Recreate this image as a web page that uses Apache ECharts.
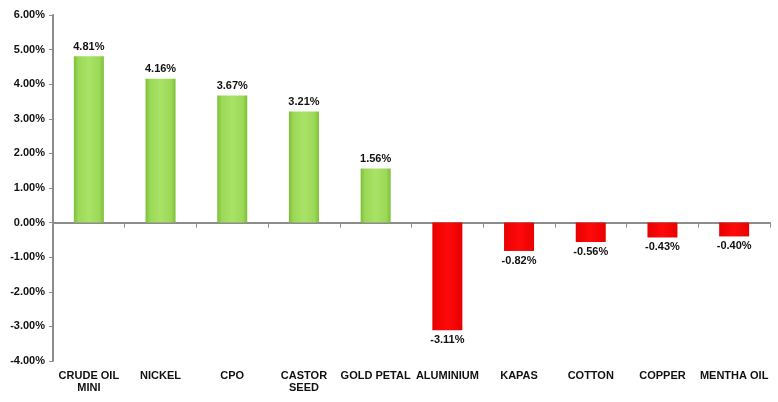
<!DOCTYPE html>
<html><head><meta charset="utf-8">
<script src="https://cdn.jsdelivr.net/npm/echarts@6/dist/echarts.min.js"></script>
<style>html,body{margin:0;padding:0;background:#fff}#c{width:778px;height:402px}</style>
</head><body><div id="c"></div>
<script>
const categories = ['CRUDE OIL\nMINI','NICKEL','CPO','CASTOR\nSEED','GOLD PETAL','ALUMINIUM','KAPAS','COTTON','COPPER','MENTHA OIL'];
const values = [4.81, 4.16, 3.67, 3.21, 1.56, -3.11, -0.82, -0.56, -0.43, -0.40];
const yMin = -4, yMax = 6, yStep = 1;

const green = {type:'linear',x:0,y:0,x2:1,y2:0,colorStops:[
  {offset:0,color:'#7cbf36'},{offset:0.15,color:'#9cd957'},{offset:0.5,color:'#a9e267'},{offset:0.85,color:'#9cd957'},{offset:1,color:'#7cbf36'}]};
const red = {type:'linear',x:0,y:0,x2:1,y2:0,colorStops:[
  {offset:0,color:'#e80000'},{offset:0.5,color:'#ff0a0a'},{offset:1,color:'#e80000'}]};

const font = {fontFamily:'Liberation Sans, Arial, sans-serif',fontWeight:'bold',fontSize:11,color:'#111'};
const chart = echarts.init(document.getElementById('c'));
chart.setOption({
  animation:false,
  grid:{left:53,right:8,top:15,bottom:41},
  xAxis:[{
    type:'category',data:categories,
    axisLine:{onZero:true,lineStyle:{color:'#8c8c8c',width:2}},
    axisTick:{show:true,interval:0,length:5,lineStyle:{color:'#8c8c8c'}},
    axisLabel:{show:false}
  },{
    type:'category',data:categories,position:'bottom',
    axisLine:{show:false,onZero:false},axisTick:{show:false},
    axisLabel:Object.assign({interval:0,margin:9,lineHeight:12},font)
  }],
  yAxis:{
    type:'value',min:yMin,max:yMax,interval:yStep,
    splitLine:{show:false},
    axisLine:{show:true,lineStyle:{color:'#8c8c8c',width:2}},
    axisTick:{show:true,length:4,lineStyle:{color:'#8c8c8c'}},
    axisLabel:Object.assign({margin:8,formatter:v=>v.toFixed(2)+'%'},font)
  },
  series:[{
    type:'bar',data:values.map(v=>({value:v,itemStyle:{color:v>=0?green:red},
      label:{position:v>=0?'top':'bottom'}})),
    barWidth:30,
    label:Object.assign({show:true,distance:4,formatter:p=>p.value.toFixed(2)+'%'},font)
  }]
});
</script></body></html>
